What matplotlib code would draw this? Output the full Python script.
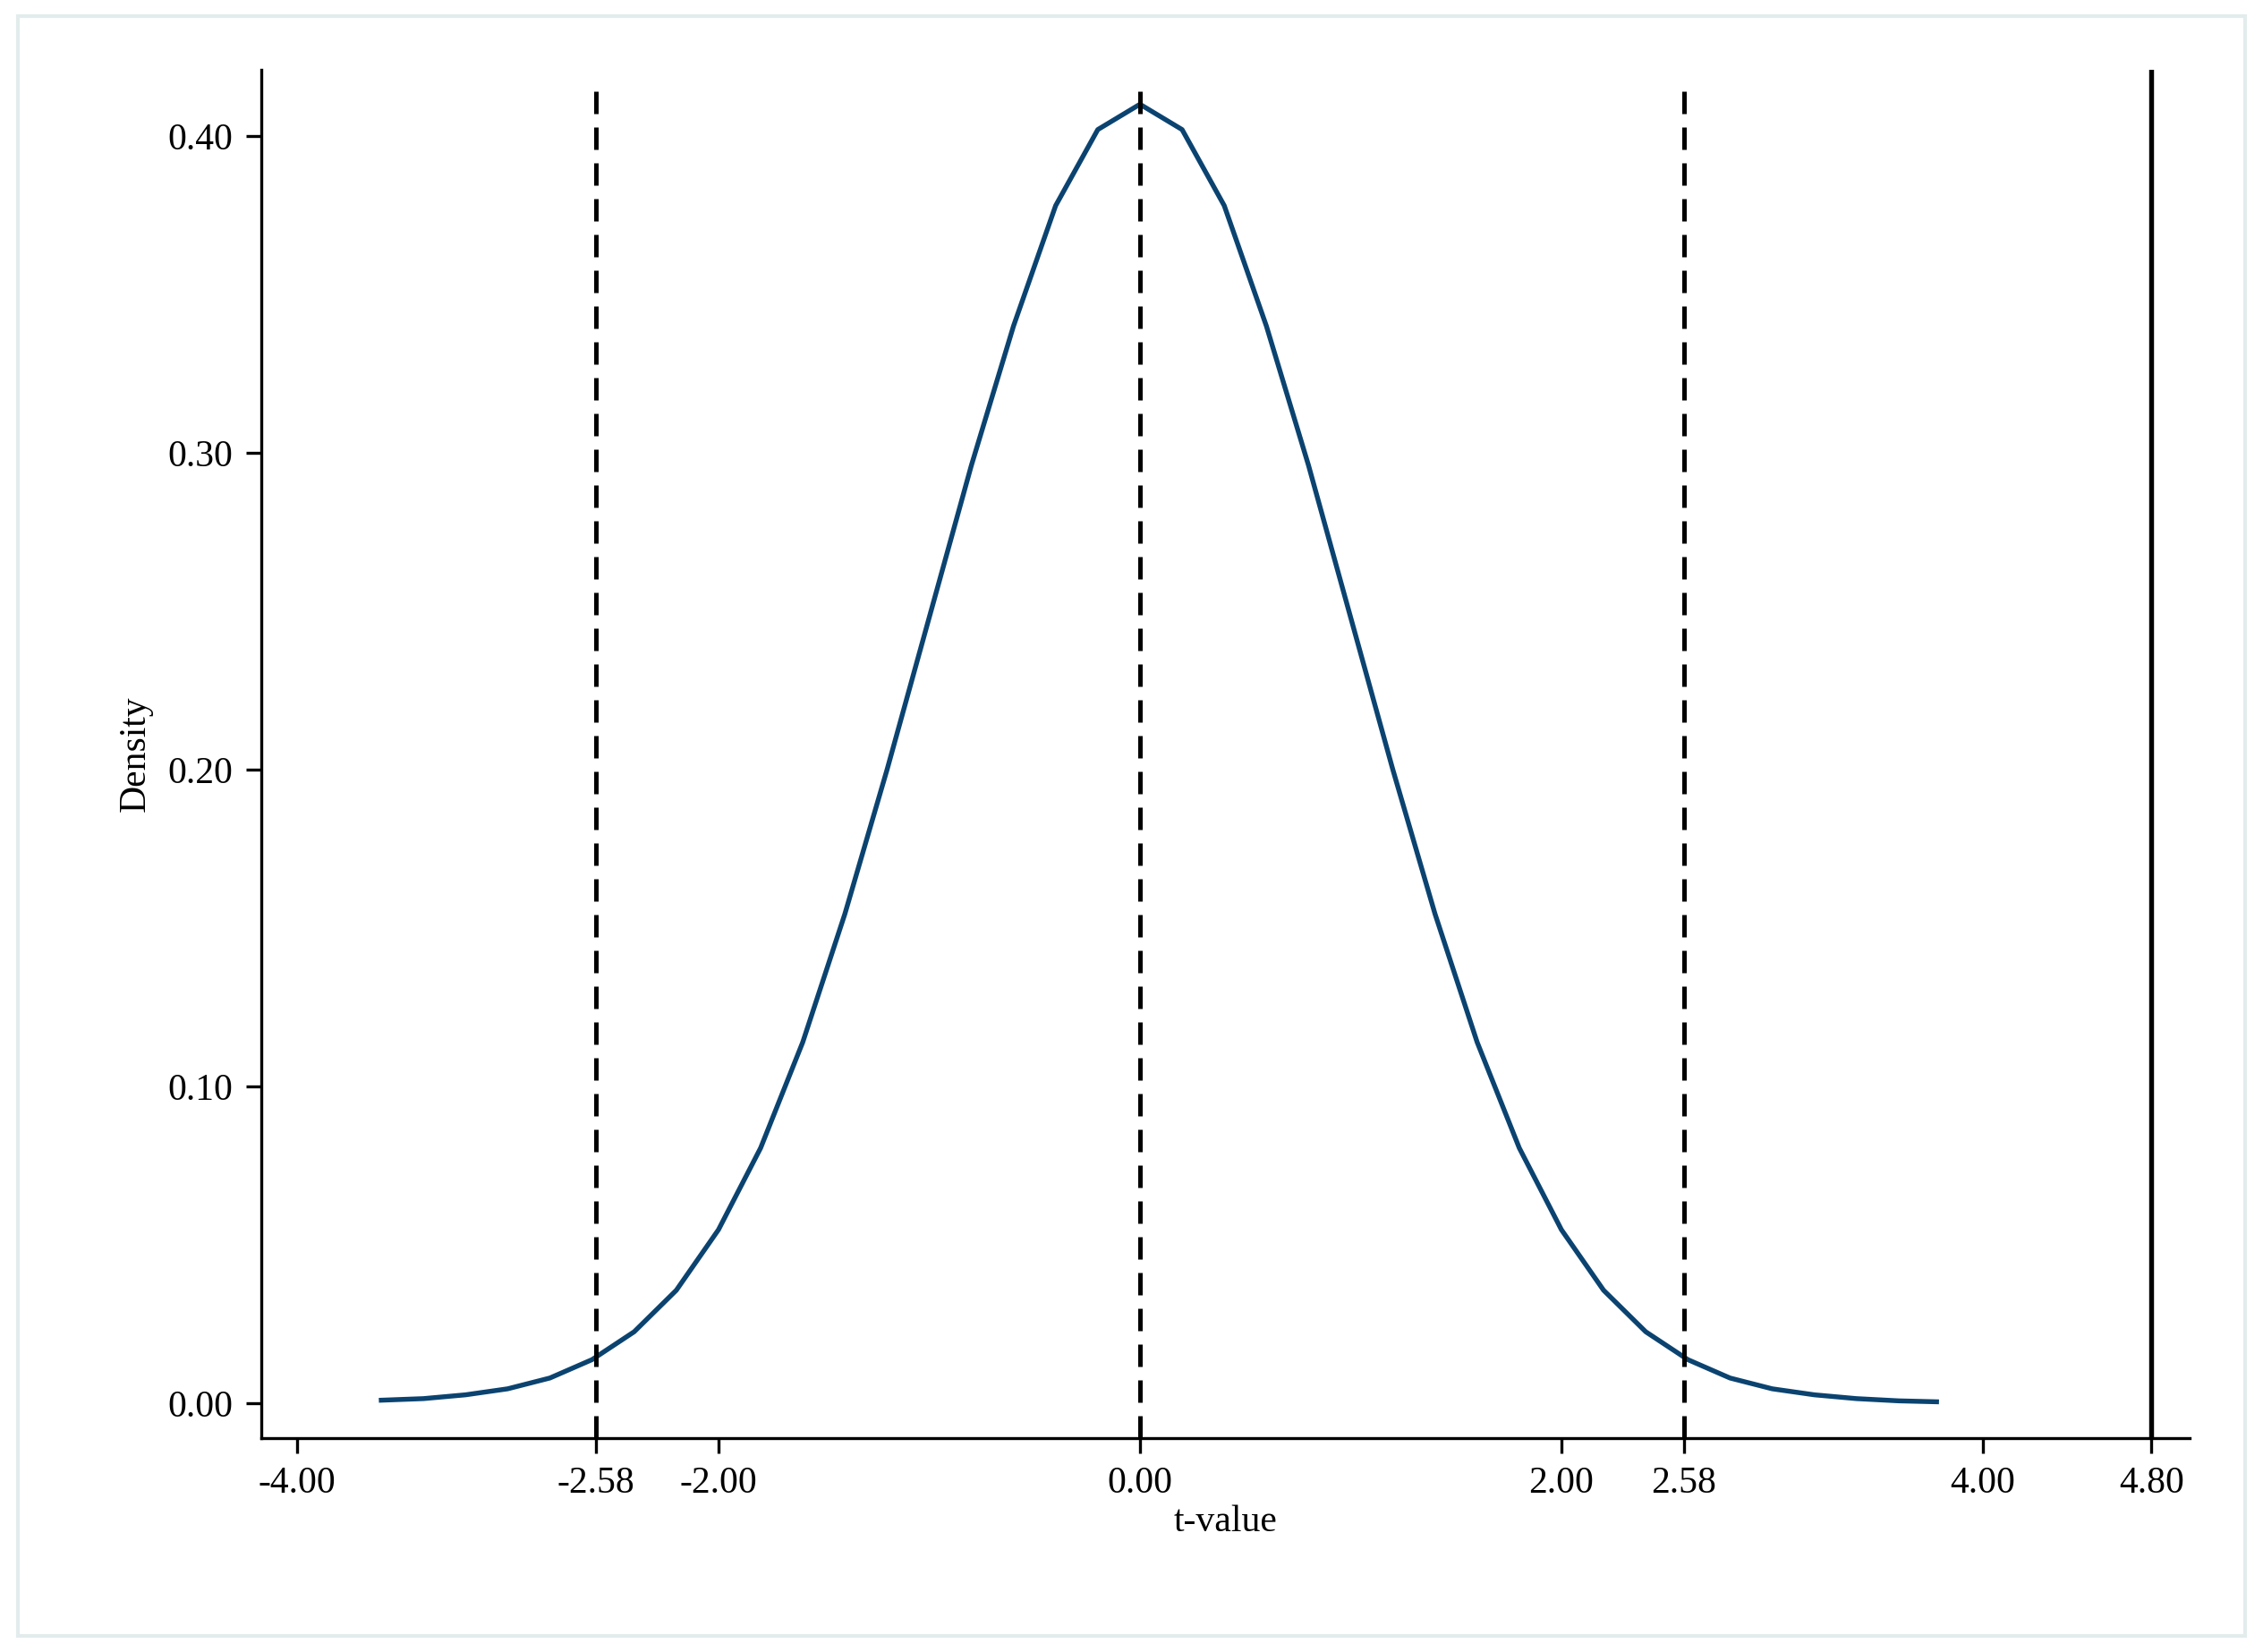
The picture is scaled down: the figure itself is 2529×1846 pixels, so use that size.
import matplotlib
matplotlib.use("Agg")
import matplotlib.pyplot as plt
from matplotlib.patches import Rectangle

t_vals = [-3.6,-3.4,-3.2,-3.0,-2.8,-2.6,-2.4,-2.2,-2.0,-1.8,-1.6,-1.4,-1.2,-1.0,-0.8,-0.6,-0.4,-0.2,0.0,
          0.2,0.4,0.6,0.8,1.0,1.2,1.4,1.6,1.8,2.0,2.2,2.4,2.6,2.8,3.0,3.2,3.4,3.6,3.78]
density = [0.001,0.0015,0.0027,0.0046,0.008,0.0138,0.0226,0.0357,0.0548,0.0806,0.1140,0.1545,0.2000,0.2480,0.2960,0.3400,0.3780,0.4020,0.4100,
           0.4020,0.3780,0.3400,0.2960,0.2480,0.2000,0.1545,0.1140,0.0806,0.0548,0.0357,0.0226,0.0138,0.008,0.0046,0.0027,0.0015,0.0008,0.0005]
crit_lines = [-2.58, 0.0, 2.58]
observed = 4.80
xticks = [-4.0, -2.58, -2.0, 0.0, 2.0, 2.58, 4.0, 4.80]
yticks = [0.0, 0.1, 0.2, 0.3, 0.4]

plt.rcParams['font.family'] = ['Liberation Serif', 'DejaVu Serif']
fig = plt.figure(figsize=(2529/300, 1846/300), dpi=300)
fig.patches.append(Rectangle((0.008, 0.01), 0.984, 0.98, transform=fig.transFigure,
                             fill=False, edgecolor='#e3ecec', linewidth=1.0))
ax = fig.add_axes([0.1154, 0.1294, 0.9675-0.1154, 0.958-0.1294])
ax.set_xlim(-4.17, 4.98)
ax.set_ylim(-0.011, 0.421)
ax.plot(t_vals, density, color='#0b4370', lw=1.3)
for c in crit_lines:
    ax.axvline(c, color='black', lw=1.2, ls=(0, (5, 3)), ymax=0.99)
ax.axvline(observed, color='black', lw=1.3)
ax.set_xticks(xticks)
ax.set_xticklabels([f"{v:.2f}" for v in xticks])
ax.set_yticks(yticks)
ax.set_yticklabels([f"{v:.2f}" for v in yticks])
ax.tick_params(labelsize=10, width=0.8, length=4, direction='out')
ax.spines['top'].set_visible(False)
ax.spines['right'].set_visible(False)
ax.set_xlabel('t-value', fontsize=10, labelpad=1)
ax.set_ylabel('Density', fontsize=10)
fig.savefig('out.png', dpi=300)
